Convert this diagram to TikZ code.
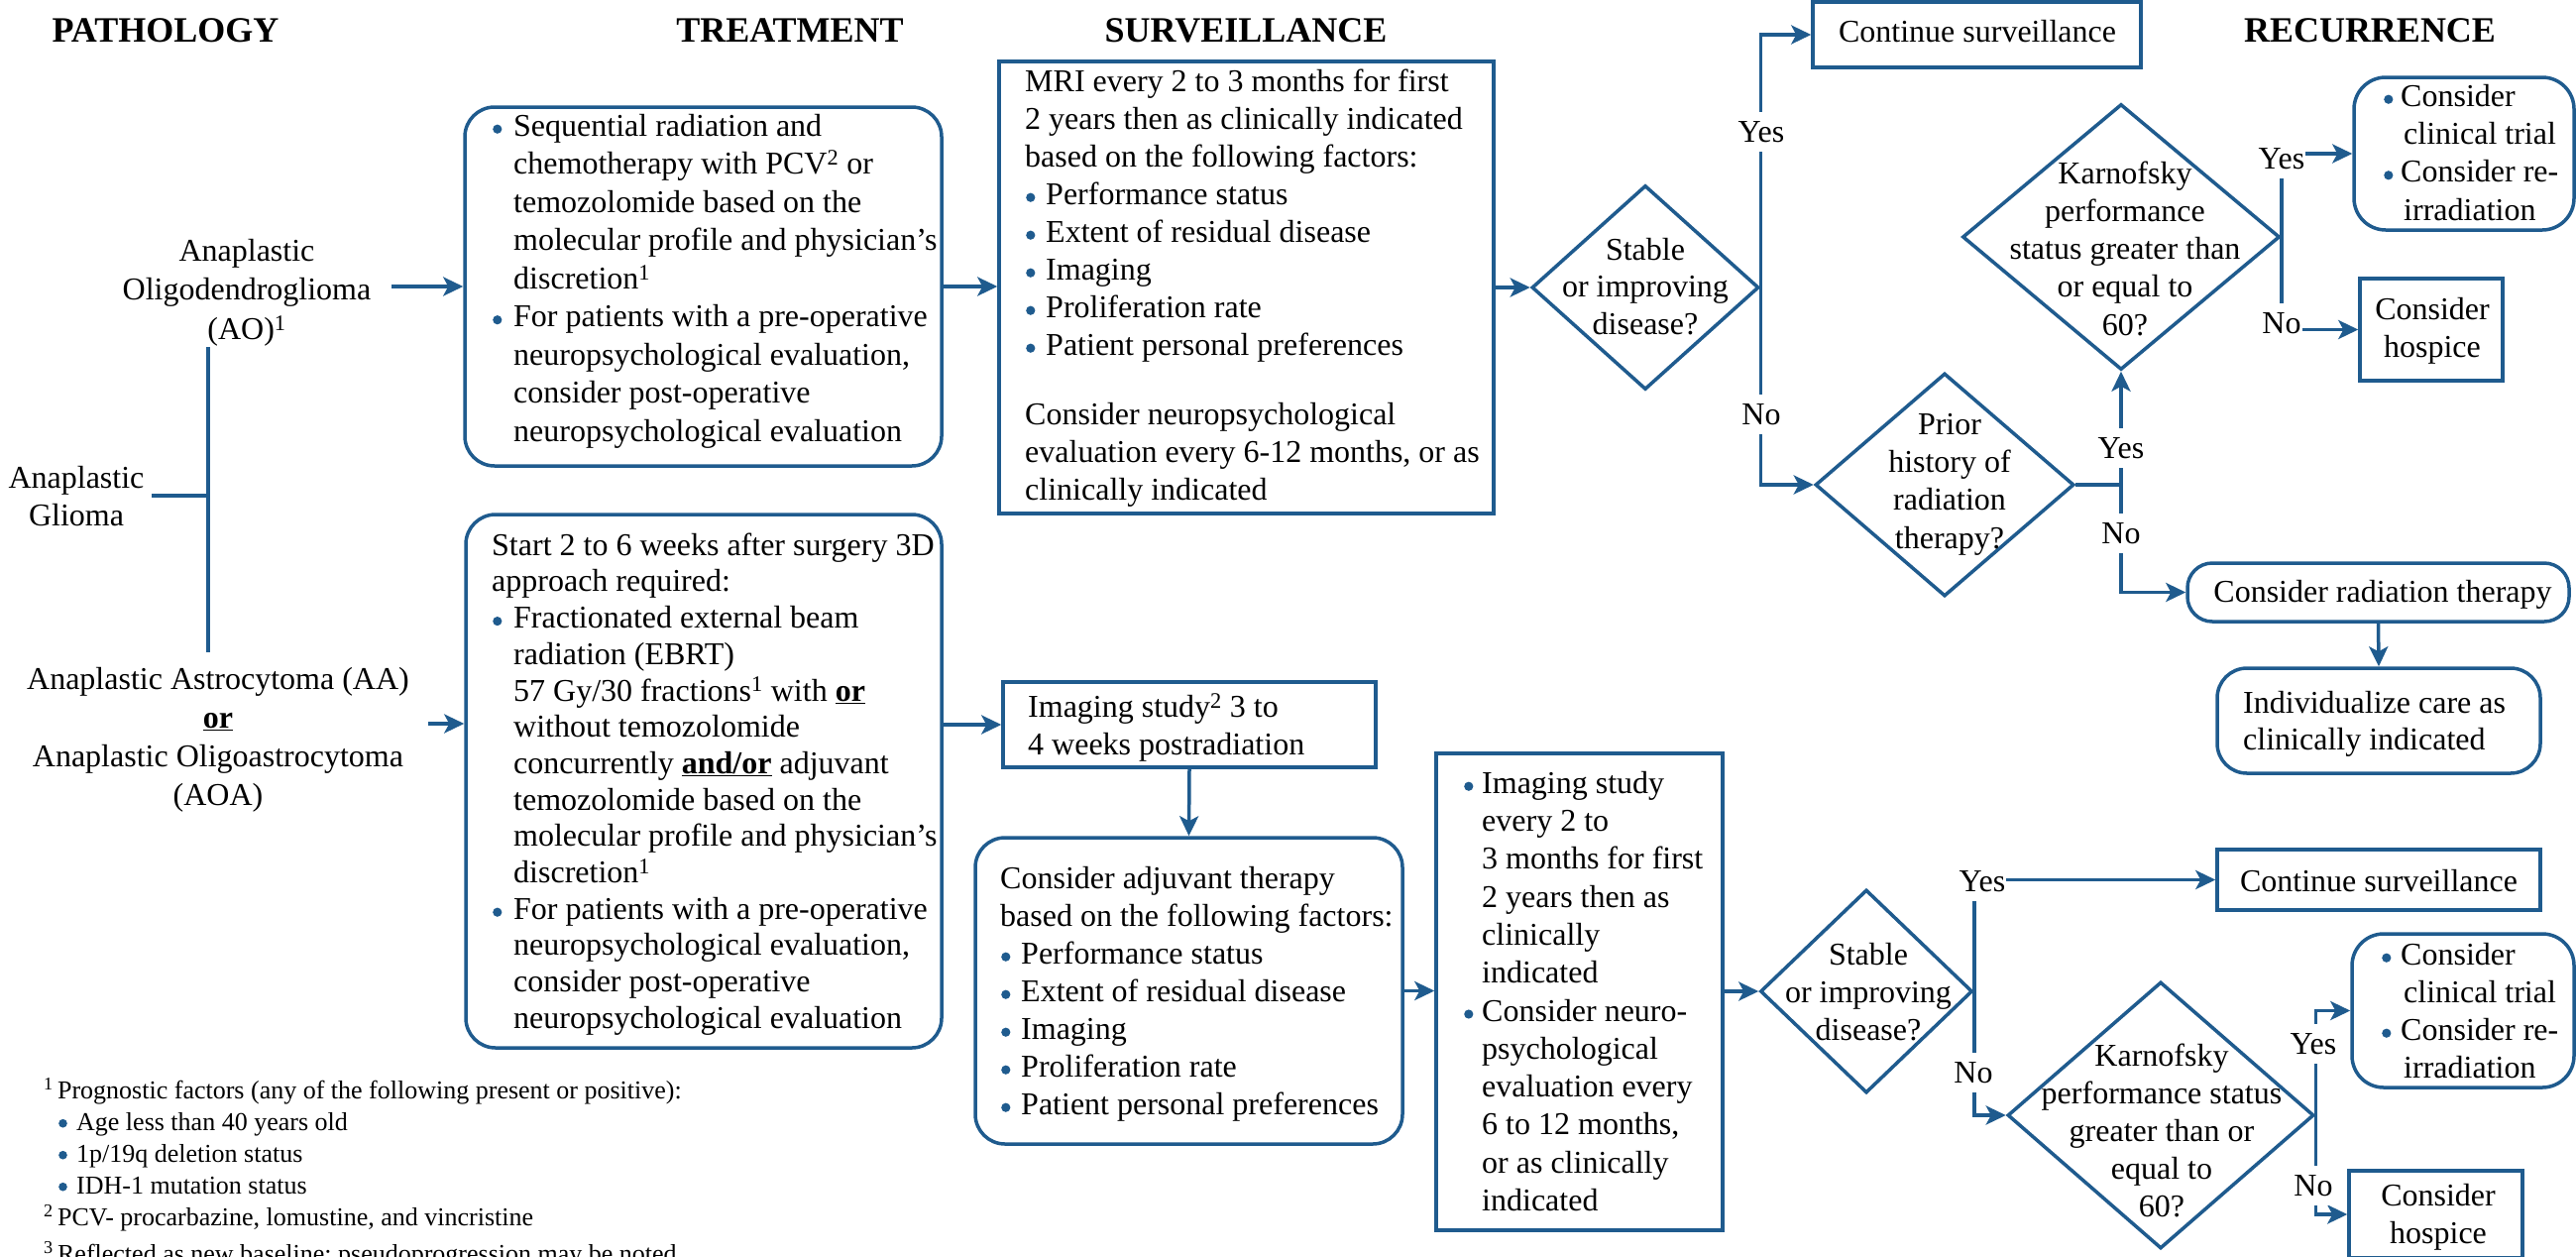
\documentclass[tikz,border=0pt]{standalone}
\usepackage{fontspec}
\setmainfont{Liberation Serif}
\usetikzlibrary{arrows.meta,shapes.geometric}
\definecolor{nccblue}{RGB}{31,91,142}
% blue round list bullet in a box of the given width (optional: dot radius)
\newcommand{\nbul}[2][4.6pt]{\makebox[#2][l]{\hspace{1pt}\tikz[baseline=0pt]\fill[nccblue] (0pt,7pt) circle[radius=#1];}}

\begin{document}
\begin{tikzpicture}[x=1pt,y=-1pt,
  conn/.style={draw=nccblue, line width=3.5pt},
  arr/.style={conn, -{Stealth[length=20pt,width=19pt,inset=5pt]}},
  sqbox/.style={draw=nccblue, line width=3.5pt, rectangle, inner sep=0pt},
  rbox/.style={sqbox, rounded corners=#1},
  dmd/.style={draw=nccblue, line width=3.5pt, diamond, inner sep=0pt},
  txt/.style={inner sep=0pt, align=left, font=\fontsize{32}{#1}\selectfont},
  ctxt/.style={inner sep=0pt, align=center, font=\fontsize{32}{#1}\selectfont},
  one/.style={inner sep=0pt, anchor=base, font=\fontsize{32}{38}\selectfont},
  fn/.style={inner sep=0pt, align=left, font=\fontsize{26}{32}\selectfont},
  hdr/.style={inner sep=0pt, anchor=base, font=\fontsize{36}{40}\selectfont\bfseries},
  lbl/.style={fill=white, inner xsep=1pt, inner ysep=9pt, font=\fontsize{32}{38}\selectfont},
]
\useasboundingbox (0,0) rectangle (2599,1267);
\clip (0,0) rectangle (2599,1267);
\fill[white] (0,0) rectangle (2599,1267);

% column headings
\node[hdr] (h-path)  at (167,42)  {PATHOLOGY};
\node[hdr] (h-treat) at (797,42)  {TREATMENT};
\node[hdr] (h-surv)  at (1257,42) {SURVEILLANCE};
\node[hdr] (h-rec)   at (2391,42) {RECURRENCE};

% pathology
\node[ctxt=39.5, anchor=north] (t-ao) at (249,235.4)
  {\strut Anaplastic\\Oligodendroglioma\\(AO)\textsuperscript{1}};
\node[ctxt=38, anchor=north] (t-glioma) at (77,465.4) {\strut Anaplastic\\Glioma};
\node[ctxt=39, anchor=north] (t-aa) at (220,667.7)
  {\strut Anaplastic Astrocytoma (AA)\\\textbf{\underline{or}}\\Anaplastic Oligoastrocytoma\\(AOA)};

\coordinate (j-top) at (210,350);
\coordinate (j-mid) at (210,500);
\coordinate (j-bot) at (210,658);
\coordinate (g-out) at (153,500);
\coordinate (ao-out) at (395,289);
\coordinate (aa-out) at (432,730);
\draw[conn] (j-top) -- (j-bot);
\draw[conn] (g-out) -- (j-mid);

% boxes
\node[rbox=30pt, minimum width=481pt, minimum height=362pt] (tb1) at (709.5,289) {};
\node[rbox=30pt, minimum width=480pt, minimum height=538pt] (tb2) at (710,788) {};
\node[sqbox, minimum width=499pt, minimum height=456pt] (sv) at (1257.5,290) {};
\node[dmd, minimum width=229pt, minimum height=206pt] (d1) at (1660,290) {};
\node[sqbox, minimum width=331pt, minimum height=66pt] (cs1) at (1994.5,35) {};
\node[dmd, minimum width=261pt, minimum height=225pt] (pr) at (1962,489) {};
\node[dmd, minimum width=320pt, minimum height=268pt] (k1) at (2140,239) {};
\node[rbox=32pt, minimum width=222pt, minimum height=154pt] (ct1) at (2486,155) {};
\node[sqbox, minimum width=144pt, minimum height=103pt] (hs1) at (2453,332.5) {};
\node[rbox=25pt, minimum width=385pt, minimum height=59pt] (rt) at (2399.5,597.5) {};
\node[rbox=30pt, minimum width=326pt, minimum height=106pt] (ic) at (2400,727) {};
\node[sqbox, minimum width=376pt, minimum height=86pt] (is1) at (1200,731) {};
\node[rbox=30pt, minimum width=431pt, minimum height=309pt] (adj) at (1199.5,999.5) {};
\node[sqbox, minimum width=289pt, minimum height=481pt] (ie) at (1593.5,1000.5) {};
\node[dmd, minimum width=214pt, minimum height=205pt] (d2) at (1883,1000) {};
\node[sqbox, minimum width=326pt, minimum height=61pt] (cs2) at (2400,887.5) {};
\node[dmd, minimum width=309pt, minimum height=269pt] (k2) at (2180,1125) {};
\node[rbox=32pt, minimum width=224pt, minimum height=155pt] (ct2) at (2485,1019.5) {};
\node[sqbox, minimum width=175pt, minimum height=88pt] (hs2) at (2457.5,1225) {};

% connectors
\draw[arr] (ao-out) -- (tb1.west);
\draw[arr] (aa-out) -- (aa-out -| tb2.west);
\draw[arr] (tb1.east) -- (tb1.east -| sv.west);
\draw[arr] (sv.east) -- (d1.west);
\draw[arr] (d1.east) |- (cs1.west);
\draw[arr] (d1.east) |- (pr.west);
\draw[arr] (pr.east) -| (k1.south);
\draw[arr] (pr.east) -- (pr.east -| k1.south) |- (rt.west);
\draw[arr] (k1.east) |- (ct1.west);
\draw[arr] (k1.east) |- (hs1.west);
\draw[arr] (rt.south) -- (ic.north);
\draw[arr] (is1.west -| tb2.east) -- (is1.west);
\draw[arr] (is1.south) -- (adj.north);
\draw[arr] (adj.east) -- (adj.east -| ie.west);
\draw[arr] (ie.east |- d2.west) -- (d2.west);
\draw[arr] (d2.east) |- (cs2.west);
\draw[arr] (d2.east) |- (k2.west);
\draw[arr] (k2.east) |- (ct2.west);
\draw[arr] (k2.east) |- (hs2.west);

% branch labels
\node[lbl] (l-d1y) at (1777,133)  {Yes};
\node[lbl] (l-d1n) at (1777,418)  {No};
\node[lbl] (l-pry) at (2140,452)  {Yes};
\node[lbl] (l-prn) at (2140,538)  {No};
\node[lbl] (l-k1y) at (2302,160)  {Yes};
\node[lbl] (l-k1n) at (2302,326)  {No};
\node[lbl] (l-d2y) at (2000,889)  {Yes};
\node[lbl] (l-d2n) at (1991,1082) {No};
\node[lbl] (l-k2y) at (2334,1053) {Yes};
\node[lbl] (l-k2n) at (2334,1196) {No};

% treatment texts
\node[txt=38.5, anchor=north west] (t-tb1) at (496,110.05)
  {\nbul{22pt}\strut Sequential radiation and\\
   \hspace*{22pt}chemotherapy with PCV\textsuperscript{2} or\\
   \hspace*{22pt}temozolomide based on the\\
   \hspace*{22pt}molecular profile and physician’s\\
   \hspace*{22pt}discretion\textsuperscript{1}\\
   \nbul{22pt}For patients with a pre-operative\\
   \hspace*{22pt}neuropsychological evaluation,\\
   \hspace*{22pt}consider post-operative\\
   \hspace*{22pt}neuropsychological evaluation};
\node[txt=36.7, anchor=north west] (t-tb2) at (496,534.3)
  {\strut Start 2 to 6 weeks after surgery 3D\\
   approach required:\\
   \nbul{22pt}Fractionated external beam\\
   \hspace*{22pt}radiation (EBRT)\\
   \hspace*{22pt}57 Gy/30 fractions\textsuperscript{1} with \textbf{\underline{or}}\\
   \hspace*{22pt}without temozolomide\\
   \hspace*{22pt}concurrently \textbf{\underline{and/or}} adjuvant\\
   \hspace*{22pt}temozolomide based on the\\
   \hspace*{22pt}molecular profile and physician’s\\
   \hspace*{22pt}discretion\textsuperscript{1}\\
   \nbul{22pt}For patients with a pre-operative\\
   \hspace*{22pt}neuropsychological evaluation,\\
   \hspace*{22pt}consider post-operative\\
   \hspace*{22pt}neuropsychological evaluation};

% surveillance texts
\node[txt=38, anchor=north west] (t-sv) at (1034,65.4)
  {\strut MRI every 2 to 3 months for first\\
   2 years then as clinically indicated\\
   based on the following factors:\\
   \nbul{21pt}Performance status\\
   \nbul{21pt}Extent of residual disease\\
   \nbul{21pt}Imaging\\
   \nbul{21pt}Proliferation rate\\
   \nbul{21pt}Patient personal preferences\\[32pt]
   Consider neuropsychological\\
   evaluation every 6-12 months, or as\\
   clinically indicated};
\node[txt=38, anchor=north west] (t-is1) at (1037,696.4)
  {\strut Imaging study\textsuperscript{2} 3 to\\4 weeks postradiation};
\node[txt=38, anchor=north west] (t-adj) at (1009,869.4)
  {\strut Consider adjuvant therapy\\
   based on the following factors:\\
   \nbul{21pt}Performance status\\
   \nbul{21pt}Extent of residual disease\\
   \nbul{21pt}Imaging\\
   \nbul{21pt}Proliferation rate\\
   \nbul{21pt}Patient personal preferences};
\node[txt=38.3, anchor=north west] (t-ie) at (1476,773.2)
  {\nbul{19pt}\strut Imaging study\\
   \hspace*{19pt}every 2 to\\
   \hspace*{19pt}3 months for first\\
   \hspace*{19pt}2 years then as\\
   \hspace*{19pt}clinically\\
   \hspace*{19pt}indicated\\
   \nbul{19pt}Consider neuro-\\
   \hspace*{19pt}psychological\\
   \hspace*{19pt}evaluation every\\
   \hspace*{19pt}6 to 12 months,\\
   \hspace*{19pt}or as clinically\\
   \hspace*{19pt}indicated};

% decision texts
\node[ctxt=37.5, anchor=north] (t-d1) at (1660,235.75) {\strut Stable\\or improving\\disease?};
\node[ctxt=38.3, anchor=north] (t-pr) at (1967,411.2) {\strut Prior\\history of\\radiation\\therapy?};
\node[ctxt=38.25, anchor=north] (t-k1) at (2144,158.2)
  {\strut Karnofsky\\performance\\status greater than\\or equal to\\60?};
\node[ctxt=38, anchor=north] (t-d2) at (1885,946.4) {\strut Stable\\or improving\\disease?};
\node[ctxt=38, anchor=north] (t-k2) at (2181,1048.4)
  {\strut Karnofsky\\performance status\\greater than or\\equal to\\60?};

% recurrence texts
\node[one] (t-cs1) at (1995,42) {Continue surveillance};
\node[one] (t-cs2) at (2400,899) {Continue surveillance};
\node[one] (t-rt) at (2404,607) {Consider radiation therapy};
\node[txt=37, anchor=north west] (t-ic) at (2263,693.1) {\strut Individualize care as\\clinically indicated};
\node[ctxt=38, anchor=north] (t-hs1) at (2454,295.4) {\strut Consider\\hospice};
\node[ctxt=38, anchor=north] (t-hs2) at (2460,1189.4) {\strut Consider\\hospice};
\node[txt=38.3, anchor=north west] (t-ct1) at (2404,80.2)
  {\nbul{18pt}\strut Consider\\\hspace*{21pt}clinical trial\\
   \nbul{18pt}Consider re-\\\hspace*{21pt}irradiation};
\node[txt=38, anchor=north west] (t-ct2) at (2402,946.4)
  {\nbul{20pt}\strut Consider\\\hspace*{23pt}clinical trial\\
   \nbul{20pt}Consider re-\\\hspace*{23pt}irradiation};

% footnotes
\node[fn, anchor=north west] (t-fn) at (44,1085.6)
  {\strut\textsuperscript{1}\,Prognostic factors (any of the following present or positive):\\
   \hspace*{14pt}\nbul[4.3pt]{19pt}Age less than 40 years old\\
   \hspace*{14pt}\nbul[4.3pt]{19pt}1p/19q deletion status\\
   \hspace*{14pt}\nbul[4.3pt]{19pt}IDH-1 mutation status\\
   \textsuperscript{2}\,PCV- procarbazine, lomustine, and vincristine\\[5pt]
   \textsuperscript{3}\,Reflected as new baseline; pseudoprogression may be noted};
\end{tikzpicture}
\end{document}
